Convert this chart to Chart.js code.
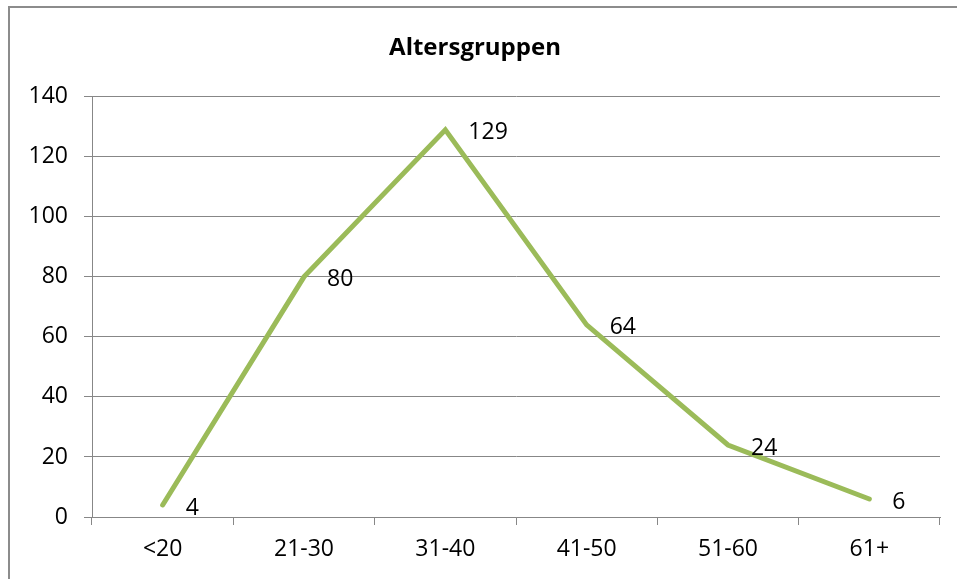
<!DOCTYPE html>
<html>
<head>
<meta charset="utf-8">
<script src="https://cdn.jsdelivr.net/npm/chart.js@4.4.1/dist/chart.umd.min.js"></script>
<style>
  html, body { margin: 0; padding: 0; background: #fff; }
  #wrap { width: 957px; height: 579px; }
</style>
</head>
<body>
<div id="wrap"><canvas id="chart" width="957" height="579"></canvas></div>
<script>
// chart data
const categories = ['<20', '21-30', '31-40', '41-50', '51-60', '61+'];
const values = [4, 80, 129, 64, 24, 6];
const yTicks = [0, 20, 40, 60, 80, 100, 120, 140];

const FONT = '"Open Sans", "Liberation Sans", sans-serif';
const GRAY = '#878787';

// value labels to the right of each point
const valueLabels = {
  id: 'valueLabels',
  afterDatasetsDraw(chart) {
    const ctx = chart.ctx;
    const meta = chart.getDatasetMeta(0);
    ctx.save();
    ctx.font = '23px ' + FONT;
    ctx.fillStyle = '#000';
    ctx.textAlign = 'left';
    ctx.textBaseline = 'middle';
    meta.data.forEach((pt, i) => {
      ctx.fillText(String(values[i]), pt.x + 23, pt.y + 3);
    });
    ctx.restore();
  }
};

// outer frame of the chart (right and bottom edges are off the picture)
const frame = {
  id: 'frame',
  beforeDraw(chart) {
    const ctx = chart.ctx;
    ctx.save();
    ctx.strokeStyle = '#8c8c8c';
    ctx.lineWidth = 2;
    ctx.strokeRect(9, 7, chart.width + 20, chart.height + 20);
    ctx.restore();
  }
};

const ctx = document.getElementById('chart').getContext('2d');
new Chart(ctx, {
  type: 'line',
  data: {
    labels: categories,
    datasets: [{
      label: 'Altersgruppen',
      data: values,
      borderColor: '#9BBB59',
      borderWidth: 5,
      pointRadius: 0,
      tension: 0,
      borderCapStyle: 'round'
    }]
  },
  options: {
    responsive: false,
    animation: false,
    layout: { padding: { top: 1, left: 10, right: 17, bottom: 10 } },
    plugins: {
      legend: { display: false },
      tooltip: { enabled: false },
      title: {
        display: true,
        text: 'Altersgruppen',
        color: '#000',
        font: { family: FONT, size: 24, weight: 'bold', lineHeight: 1.2 },
        padding: { top: 33, bottom: 34 }
      }
    },
    scales: {
      x: {
        offset: true,
        grid: {
          offset: true,
          drawOnChartArea: false,
          drawTicks: true,
          tickLength: 8,
          color: GRAY
        },
        border: { color: GRAY, width: 1 },
        ticks: {
          color: '#000',
          font: { family: FONT, size: 23 },
          padding: 11,
          maxRotation: 0
        },
        afterFit(scale) { scale.height = 52; }
      },
      y: {
        min: 0,
        max: 140,
        afterBuildTicks(scale) { scale.ticks = yTicks.map(v => ({ value: v })); },
        grid: {
          color: GRAY,
          tickLength: 8
        },
        border: { color: GRAY, width: 1 },
        ticks: {
          color: '#000',
          font: { family: FONT, size: 23 },
          padding: 16
        },
        afterFit(scale) { scale.width = 82; }
      }
    }
  },
  plugins: [frame, valueLabels]
});
</script>
</body>
</html>
